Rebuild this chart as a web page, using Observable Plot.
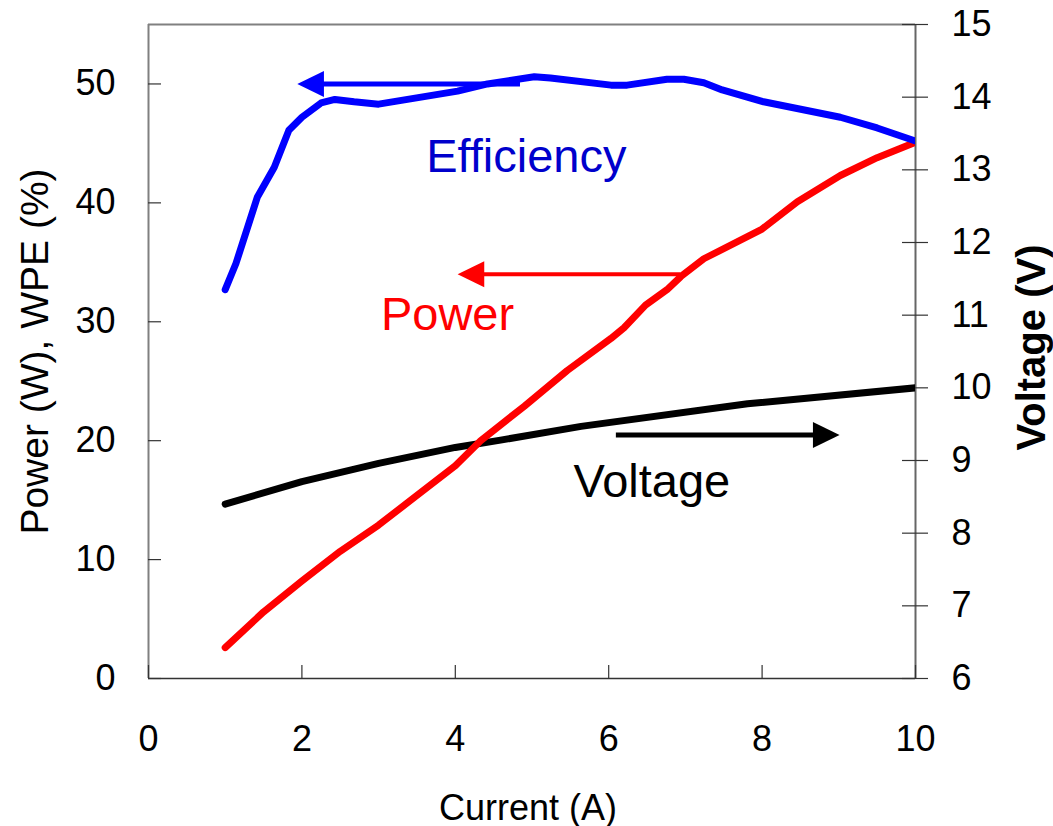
<!DOCTYPE html>
<html>
<head>
<meta charset="utf-8">
<script src="https://cdn.jsdelivr.net/npm/d3@7"></script>
<script src="https://cdn.jsdelivr.net/npm/@observablehq/plot@0.6"></script>
<style>
  html, body { margin: 0; padding: 0; background: #fff; }
  #chart svg { display: block; }
</style>
</head>
<body>
<div id="chart"></div>
<script>
// Wall-plug efficiency (%) against drive current (A)
const effCurrent = [1.0, 1.14, 1.42, 1.64, 1.83, 2.0, 2.25, 2.43, 2.68, 3.0, 4.03, 4.42, 5.03, 5.24, 6.03, 6.24, 6.76, 6.98, 7.24, 7.48, 8.02, 9.02, 9.5, 10.0];
const effValue   = [32.7, 34.9, 40.5, 43.0, 46.1, 47.2, 48.4, 48.7, 48.5, 48.3, 49.4, 50.0, 50.6, 50.5, 49.9, 49.9, 50.4, 50.4, 50.1, 49.5, 48.5, 47.2, 46.3, 45.2];

// Optical output power (W) against drive current (A)
const powCurrent = [1.0, 1.5, 2.0, 2.5, 3.0, 3.46, 4.0, 4.33, 4.9, 5.46, 6.03, 6.2, 6.48, 6.76, 6.94, 7.24, 8.0, 8.46, 9.02, 9.5, 10.0];
const powValue   = [2.6, 5.6, 8.2, 10.7, 12.9, 15.2, 17.9, 20.0, 22.9, 25.9, 28.6, 29.5, 31.4, 32.7, 33.8, 35.3, 37.8, 40.1, 42.3, 43.8, 45.1];

// Forward voltage (V) against drive current (A)
const voltCurrent = [1.0, 2.0, 3.0, 4.0, 4.59, 5.64, 7.81, 10.0];
const voltValue   = [8.4, 8.71, 8.96, 9.18, 9.28, 9.47, 9.78, 10.0];

// Tick values
const xTicks = [0, 2, 4, 6, 8, 10];
const leftTicks = [0, 10, 20, 30, 40, 50];
const rightTicks = [6, 7, 8, 9, 10, 11, 12, 13, 14, 15];

// Series labels and the arrows pointing each curve to its axis
const seriesLabels = [
  {name: "Efficiency", x: 3.62, y: 42.6, color: "#0000CC"},
  {name: "Power",      x: 3.03, y: 29.3, color: "#FF0000"},
  {name: "Voltage",    x: 5.54, y: 15.3, color: "#000000"}
];
const leftArrows = [
  {from: 4.85, tip: 1.94, y: 50.0, color: "#0000FF", width: 5},
  {from: 6.94, tip: 4.03, y: 34.0, color: "#FF0000", width: 4}
];
const rightArrows = [
  {from: 6.10, tip: 9.01, volts: 9.35, color: "#000000", width: 5}
];

// Axis ranges: the right (voltage) axis shares the frame with the left one
const yMax = 55, vMin = 6, vMax = 15;
const vToY = v => (v - vMin) * yMax / (vMax - vMin);
const yToV = y => vMin + y * (vMax - vMin) / yMax;

const W = 1053, H = 826;
const mL = 148, mR = 138, mT = 24, mB = 148;
const frameW = W - mL - mR, frameH = H - mT - mB;
const tickLen = 13;

const pairs = (xs, ys) => xs.map((x, i) => ({x, y: ys[i]}));
const effData = pairs(effCurrent, effValue);
const powData = pairs(powCurrent, powValue);
const voltData = pairs(voltCurrent, voltValue.map(vToY));

// Filled triangular arrowhead, tip at the anchor point, pointing along +x
const arrowHead = {
  draw(context, size) {
    const r = Math.sqrt(size / Math.PI);
    context.moveTo(0, 0);
    context.lineTo(-2.05 * r, -r);
    context.lineTo(-2.05 * r, r);
    context.closePath();
  }
};

const font = "'Liberation Sans', Arial, Helvetica, sans-serif";
const axisGray = "#808080";

const chart = Plot.plot({
  width: W,
  height: H,
  marginLeft: mL,
  marginRight: mR,
  marginTop: mT,
  marginBottom: mB,
  style: {fontFamily: font, color: "#000", background: "#fff"},
  x: {domain: [0, 10]},
  y: {domain: [0, yMax]},
  marks: [
    // frame lines
    Plot.ruleY([yMax], {stroke: axisGray, strokeWidth: 2}),
    Plot.ruleX([0], {stroke: axisGray, strokeWidth: 2}),
    Plot.ruleX([10], {stroke: "#666", strokeWidth: 2}),
    Plot.ruleY([0], {stroke: "#333", strokeWidth: 1.5}),

    // inward ticks on the left and bottom, crossing ticks on the right
    Plot.tickY(leftTicks, {y: d => d, insetRight: frameW - tickLen, stroke: "#333", strokeWidth: 1.2}),
    Plot.tickX(xTicks, {x: d => d, insetTop: frameH - tickLen, stroke: "#333", strokeWidth: 1.2}),
    Plot.tickY(rightTicks.map(vToY), {y: d => d, insetLeft: frameW - tickLen, insetRight: -tickLen, stroke: "#333", strokeWidth: 1.2}),

    // tick labels
    Plot.axisY(leftTicks, {anchor: "left", tickSize: 0, tickPadding: 33, fontSize: 36, label: null}),
    Plot.axisY(rightTicks.map(vToY), {anchor: "right", tickSize: 0, tickPadding: 36, fontSize: 36, label: null,
      tickFormat: d => String(Math.round(yToV(d)))}),
    Plot.axisX(xTicks, {anchor: "bottom", tickSize: 0, tickPadding: 47, fontSize: 36, label: null}),

    // axis titles
    Plot.text(["Current (A)"], {text: d => d, frameAnchor: "bottom", textAnchor: "middle", lineAnchor: "bottom",
      dx: -4, dy: 141, fontSize: 36, fill: "#000"}),
    Plot.text(["Power (W), WPE (%)"], {text: d => d, frameAnchor: "left", textAnchor: "middle", lineAnchor: "bottom",
      rotate: -90, dx: -101, fontSize: 39, fill: "#000"}),
    Plot.text(["Voltage (V)"], {text: d => d, frameAnchor: "right", textAnchor: "middle", lineAnchor: "bottom",
      rotate: -90, dx: 129, dy: -4, fontSize: 40, fontWeight: "bold", fill: "#000"}),

    // data curves
    Plot.line(voltData, {x: "x", y: "y", stroke: "#000000", strokeWidth: 7, strokeLinecap: "round", strokeLinejoin: "round", clip: true}),
    Plot.line(powData, {x: "x", y: "y", stroke: "#FF0000", strokeWidth: 7, strokeLinecap: "round", strokeLinejoin: "round", clip: true}),
    Plot.line(effData, {x: "x", y: "y", stroke: "#0000FF", strokeWidth: 7, strokeLinecap: "round", strokeLinejoin: "round", clip: true}),

    // arrows to the left axis
    Plot.ruleY(leftArrows, {y: "y", x1: "tip", x2: "from", insetLeft: 20, stroke: "color", strokeWidth: "width"}),
    Plot.dot(leftArrows, {x: "tip", y: "y", symbol: arrowHead, r: 13, rotate: 180, fill: "color", stroke: "none"}),
    // arrow to the right axis
    Plot.ruleY(rightArrows, {y: d => vToY(d.volts), x1: "from", x2: "tip", insetRight: 20, stroke: "color", strokeWidth: "width"}),
    Plot.dot(rightArrows, {x: "tip", y: d => vToY(d.volts), symbol: arrowHead, r: 13, fill: "color", stroke: "none"}),

    // series labels
    Plot.text(seriesLabels, {x: "x", y: "y", text: "name", fill: "color", fontSize: 47,
      textAnchor: "start", lineAnchor: "bottom"})
  ]
});

document.getElementById("chart").appendChild(chart);
</script>
</body>
</html>
